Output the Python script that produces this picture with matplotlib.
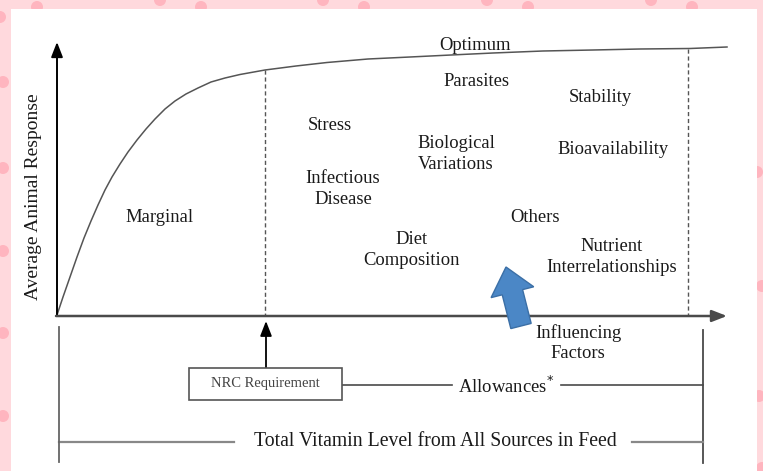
import matplotlib
matplotlib.use("Agg")
import matplotlib.pyplot as plt
from matplotlib.patches import Rectangle, Circle, FancyArrow

# ── Data (diagram coordinates, pixel space of the original) ─────────────────
curve_x = [57, 63, 70, 77, 84, 91, 98, 105, 112, 120, 128, 137, 146, 155, 165,
           175, 186, 198, 211, 225, 240, 255, 265, 296, 327, 368, 410, 451,
           493, 543, 593, 640, 690, 727]
curve_y = [315, 297, 277, 257, 238, 221, 205, 190, 177, 164, 152, 140, 129,
           119, 109, 101, 94, 88, 82, 78, 74.5, 71.8, 70, 66, 62.5, 59, 57,
           55, 53, 51, 50, 49, 48.5, 47]

origin = (57, 316)
x_axis_end = 727
y_axis_end = 42
nrc_x = 266
upper_x = 688

factor_labels = ["Optimum", "Parasites", "Stability", "Stress",
                 "Biological\nVariations", "Bioavailability",
                 "Infectious\nDisease", "Marginal", "Others",
                 "Diet\nComposition", "Nutrient\nInterrelationships",
                 "Influencing\nFactors"]
factor_x = [475, 476, 600, 330, 456, 613, 343, 160, 535, 412, 612, 578]
factor_y = [45, 82, 98, 125, 154, 149, 189, 218, 218, 250, 257, 343]

SERIF = "Liberation Serif"
TXT = "#1a1a1a"
LINE = "#4a4a4a"
FS = 13.4

fig = plt.figure(figsize=(7.63, 4.71), dpi=100)
ax = fig.add_axes([0, 0, 1, 1])
ax.set_xlim(0, 763)
ax.set_ylim(471, 0)
ax.axis("off")

# ── Pink polka-dot frame ─────────────────────────────────────────────────────
ax.add_patch(Rectangle((0, 0), 763, 471, facecolor="#ffd9dd", edgecolor="none", zorder=0))
dots = [(37, 7), (160, 0), (201, 7), (323, 0), (364, 7), (487, 0), (528, 7),
        (651, 0), (692, 7), (0, 17), (3, 82), (3, 168), (3, 251), (3, 333),
        (3, 416), (757, 172), (762, 286), (759, 396), (762, 468)]
for dx, dy in dots:
    ax.add_patch(Circle((dx, dy), 6, facecolor="#ffb5bf", edgecolor="none", zorder=1))
ax.add_patch(Rectangle((11, 9), 746, 470, facecolor="white", edgecolor="none", zorder=2))

# ── Axes arrows ─────────────────────────────────────────────────────────────
ax.annotate("", xy=(origin[0], y_axis_end), xytext=origin,
            arrowprops=dict(arrowstyle="-|>,head_length=0.9,head_width=0.35",
                            color="black", lw=1.4, shrinkA=0, shrinkB=0), zorder=5)
ax.annotate("", xy=(x_axis_end, origin[1]), xytext=(origin[0] - 1, origin[1]),
            arrowprops=dict(arrowstyle="-|>,head_length=0.9,head_width=0.35",
                            color=LINE, lw=1.8, shrinkA=0, shrinkB=0), zorder=5)

# response curve
ax.plot(curve_x, curve_y, color="#555555", lw=1.1, zorder=4)

# dashed boundaries
ax.plot([nrc_x - 1, nrc_x - 1], [70, origin[1]], color="#555555", lw=1.0,
        ls=(0, (3, 2)), zorder=4)
ax.plot([upper_x, upper_x], [49, origin[1]], color="#555555", lw=1.0,
        ls=(0, (3, 2)), zorder=4)

# ── Labels inside chart ─────────────────────────────────────────────────────
for lab, lx, ly in zip(factor_labels, factor_x, factor_y):
    ax.text(lx, ly, lab, ha="center", va="center", fontsize=FS,
            family=SERIF, color=TXT, linespacing=1.25, zorder=6)

ax.text(34, 197, "Average Animal Response", rotation=90, ha="center",
        va="center", fontsize=14, family=SERIF, color=TXT, zorder=6)

# blue block arrow
ax.add_patch(FancyArrow(521, 326, -15, -59, width=21, head_width=44,
                        head_length=26, length_includes_head=True,
                        facecolor="#4b87c6", edgecolor="#3b6fa6", lw=1.0, zorder=6))

# ── Requirement / allowances bracket ────────────────────────────────────────
ax.annotate("", xy=(nrc_x, 321), xytext=(nrc_x, 368),
            arrowprops=dict(arrowstyle="-|>,head_length=0.9,head_width=0.35",
                            color="black", lw=1.3, shrinkA=0, shrinkB=0), zorder=5)
ax.add_patch(Rectangle((189, 368), 153, 32, facecolor="white",
                       edgecolor="#555555", lw=1.2, zorder=5))
ax.text(265, 384, "NRC Requirement", ha="center", va="center", fontsize=10.5,
        family=SERIF, color="#444444", zorder=6)

ax.plot([342, 452], [385, 385], color=LINE, lw=1.2, zorder=4)
ax.plot([561, 703], [385, 385], color=LINE, lw=1.2, zorder=4)
ax.text(506, 386, "Allowances$^{*}$", ha="center", va="center", fontsize=FS,
        family=SERIF, color=TXT, zorder=6)
ax.plot([703, 703], [330, 463], color=LINE, lw=1.3, zorder=4)

# total vitamin level bracket
ax.plot([59, 234], [442, 442], color="#888888", lw=1.6, zorder=4)
ax.plot([632, 703], [442, 442], color="#888888", lw=1.6, zorder=4)
ax.plot([59, 59], [327, 462], color="#666666", lw=1.3, zorder=4)
ax.text(435, 442, "Total Vitamin Level from All Sources in Feed", ha="center",
        va="center", fontsize=14.2, family=SERIF, color=TXT, zorder=6)

fig.savefig("out.png", dpi=100)
